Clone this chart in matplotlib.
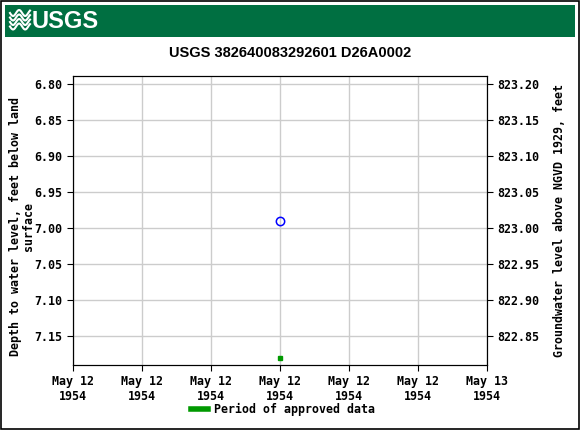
import numpy as np
import matplotlib
matplotlib.use("Agg")
import matplotlib.pyplot as plt
import matplotlib.dates as mdates
from matplotlib.patches import Rectangle
from datetime import datetime

# data
site_title = "USGS 382640083292601 D26A0002"
meas_time = [datetime(1954, 5, 12, 12, 0)]
meas_depth = [6.99]
approved_time = [datetime(1954, 5, 12, 12, 0)]
approved_depth = [7.18]
x_start = datetime(1954, 5, 12, 0, 0)
x_end = datetime(1954, 5, 13, 0, 0)
datum = 830.0  # depth + elevation

mono = ['DejaVu Sans Mono']
fs = 8.4
fig = plt.figure(figsize=(5.8, 4.3), dpi=100)

# outer frame
fig.patches.append(Rectangle((0.002, 0.002), 0.996, 0.996, transform=fig.transFigure,
                             fill=False, edgecolor='black', linewidth=1.2))
# header band
fig.patches.append(Rectangle((5/580, 1-37/430), 570/580, 32/430, transform=fig.transFigure,
                             facecolor='#006f41', edgecolor='none'))
fig.text(32/580, 1-21/430, 'USGS', color='white', fontsize=17, fontweight='bold',
         family=['Liberation Sans Narrow', 'Liberation Sans'], va='center', ha='left')
# little wave logo
for k in range(4):
    xs = np.linspace(10/580, 30/580, 30)
    ys = 1 - (13 + k*4.5)/430 - 0.007*np.sin((xs - 10/580) * 300)
    fig.lines.append(plt.Line2D(xs, ys, transform=fig.transFigure, color='white', linewidth=1.5))

fig.text(0.5, 1-53/430, site_title, ha='center', va='center', fontsize=10.5, fontweight='bold',
         family=['Liberation Sans Narrow', 'Liberation Sans'])

ax = fig.add_axes([73/580, 1-365/430, 414/580, 289/430])
ax.plot(meas_time, meas_depth, 'o', markersize=6, markerfacecolor='none',
        markeredgecolor='#0000ff', markeredgewidth=1.1, zorder=3)
ax.plot(approved_time, approved_depth, 's', markersize=3.5, color='#009900', zorder=3)

ax.set_xlim(x_start, x_end)
ax.set_ylim(7.19, 6.789)
ax.set_yticks(np.arange(6.80, 7.151, 0.05))
ax.yaxis.set_major_formatter(plt.FormatStrFormatter('%.2f'))
ax.xaxis.set_major_locator(mdates.HourLocator(byhour=[0, 4, 8, 12, 16, 20]))
ax.xaxis.set_major_formatter(mdates.DateFormatter('%b %d\n%Y'))
ax.grid(True, color='#cccccc', linewidth=1)
ax.set_axisbelow(True)
ax.tick_params(labelsize=fs, length=4)
for lbl in ax.get_xticklabels() + ax.get_yticklabels():
    lbl.set_family(mono)
    lbl.set_fontweight('bold')
ax.set_ylabel('Depth to water level, feet below land\nsurface', fontsize=fs,
              family=mono, fontweight='bold', linespacing=1.0)
ax.yaxis.set_label_coords(-0.091, 0.48)

ax2 = ax.twinx()
lo, hi = ax.get_ylim()
ax2.set_ylim(datum - lo, datum - hi)
ax2.set_yticks(np.arange(822.85, 823.201, 0.05))
ax2.yaxis.set_major_formatter(plt.FormatStrFormatter('%.2f'))
ax2.tick_params(labelsize=fs, length=4)
for lbl in ax2.get_yticklabels():
    lbl.set_family(mono)
    lbl.set_fontweight('bold')
ax2.set_ylabel('Groundwater level above NGVD 1929, feet', fontsize=fs,
               family=mono, fontweight='bold', labelpad=10)

# legend
fig.lines.append(plt.Line2D([191/580, 208/580], [1-409/430, 1-409/430], transform=fig.transFigure,
                            color='#009900', linewidth=4))
fig.text(214/580, 1-409/430, 'Period of approved data', fontsize=fs, family=mono,
         fontweight='bold', va='center')

fig.savefig('out.png', dpi=100)
